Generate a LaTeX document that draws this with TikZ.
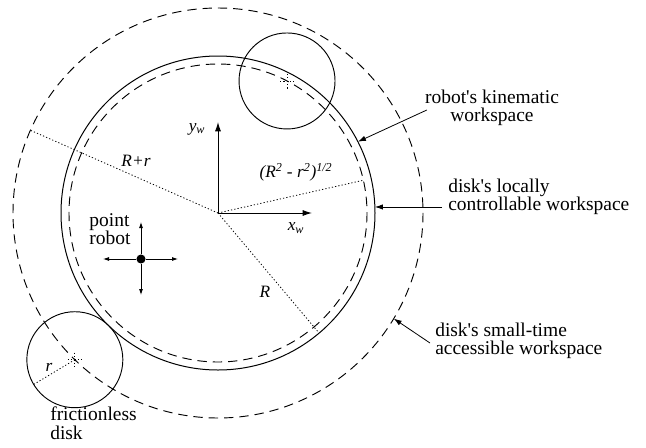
\documentclass[tikz,border=0pt]{standalone}
\usepackage{fontspec}
\setmainfont{Liberation Serif}
\usepackage{tikz}
\usetikzlibrary{arrows.meta, positioning, calc}
\definecolor{inkline}{RGB}{0, 0, 0}
\tikzset{
  px/.style={x=0.75pt, y=-0.75pt},
  textlabel/.style={inner sep=0pt, font=\rmfamily\fontsize{14.6}{13.6}\selectfont},
  mathlabel/.style={inner sep=0pt, font=\rmfamily\fontsize{13}{14}\selectfont\itshape},
  boundary/.style={draw=inkline, line width=0.75pt},
  diskline/.style={draw=inkline, line width=0.7pt},
  dashedring/.style={draw=inkline, line width=0.7pt, dash pattern=on 7pt off 4.5pt},
  radiusline/.style={draw=inkline, line width=0.6pt, dash pattern=on 0.9pt off 1.6pt},
  pointer/.style={
    draw=inkline, line width=0.6pt, -{Latex[length=6pt, width=4pt]}
  },
  axisline/.style={
    draw=inkline, line width=0.7pt, -{Latex[length=7pt, width=4.5pt]}
  },
  motionline/.style={
    draw=inkline, line width=0.6pt, -{Latex[length=4.5pt, width=3pt]}
  }
}
\newcommand{\apos}{\textquotesingle}

\begin{document}
\begin{tikzpicture}[px]
  \useasboundingbox (0,0) rectangle (646,447);

  % Workspace centre and radii
  \coordinate (ctr) at (218,213);
  \def\wsR{157}
  \def\wsRin{149}
  \def\wsRout{205}
  \def\wsr{48}

  % Workspace rings
  \draw[dashedring] (ctr) circle[radius=\wsRout];
  \draw[boundary] (ctr) circle[radius=\wsR];
  \draw[dashedring] (ctr) circle[radius=\wsRin];

  % Disk touching the boundary
  \coordinate (disk_top) at ($(ctr)+(-62.4:\wsRin)$);
  \draw[diskline] (disk_top) circle[radius=\wsr];
  \draw[radiusline] ($(disk_top)+(-7,0)$) -- ($(disk_top)+(7,0)$);
  \draw[radiusline] ($(disk_top)+(0,-7)$) -- ($(disk_top)+(0,9)$);

  % Frictionless disk
  \coordinate (disk_low) at ($(ctr)+(134.3:\wsRout)$);
  \draw[diskline] (disk_low) circle[radius=\wsr];
  \draw[radiusline] ($(disk_low)+(-7,0)$) -- ($(disk_low)+(7,0)$);
  \draw[radiusline] ($(disk_low)+(0,-7)$) -- ($(disk_low)+(0,7)$);
  \coordinate (rim_r) at ($(disk_low)+(149:\wsr)$);
  \draw[radiusline] (disk_low) -- (rim_r);

  % Radii from the centre
  \coordinate (rim_out) at ($(ctr)+(-156.2:\wsRout)$);
  \coordinate (rim_R) at ($(ctr)+(49.9:\wsR)$);
  \coordinate (rim_in) at ($(ctr)+(-12.7:\wsRin)$);
  \draw[radiusline] (ctr) -- (rim_out);
  \draw[radiusline] (ctr) -- (rim_R);
  \draw[radiusline] (ctr) -- (rim_in);

  % World frame
  \coordinate (x_tip) at (312,213);
  \coordinate (y_tip) at (218,122);
  \draw[axisline] (ctr) -- (x_tip);
  \draw[axisline] (ctr) -- (y_tip);

  % Radius and axis labels
  \node[mathlabel] (lbl_Rr) at (136,161) {R+r};
  \node[mathlabel] (lbl_root) at (296,172) {(R\textsuperscript{2} - r\textsuperscript{2})\textsuperscript{1/2}};
  \node[mathlabel] (lbl_R) at (265,292) {R};
  \node[mathlabel] (lbl_r) at (49,367) {r};
  \node[mathlabel] (lbl_x) at (296,228) {x\textsubscript{w}};
  \node[mathlabel] (lbl_y) at (197,129) {y\textsubscript{w}};

  % Point robot
  \node[circle, fill=inkline, inner sep=0pt, minimum size=6.8pt] (robot_dot) at (141,259) {};
  \coordinate (arm_l) at (103,259);
  \coordinate (arm_r) at (178,259);
  \coordinate (arm_u) at (141,222);
  \coordinate (arm_d) at (141,295);
  \draw[motionline] (robot_dot) -- (arm_l);
  \draw[motionline] (robot_dot) -- (arm_r);
  \draw[motionline] (robot_dot) -- (arm_u);
  \draw[motionline] (robot_dot) -- (arm_d);
  \node[textlabel, align=left] (lbl_point) at (110,229) {point\\robot};

  % Workspace annotations
  \node[textlabel, align=center] (lbl_kin) at (492,108) {robot\apos s kinematic\\workspace};
  \node[textlabel, align=left, anchor=west] (lbl_loc) at (448,197) {disk\apos s locally\\controllable workspace};
  \node[textlabel, align=left, anchor=west] (lbl_st) at (435,341) {disk\apos s small-time\\accessible workspace};
  \node[textlabel, align=left, anchor=north west] (lbl_fric) at (50,407) {frictionless\\disk};

  \coordinate (p_kin) at ($(ctr)+(-27:\wsR)$);
  \coordinate (p_loc) at ($(ctr)+(-2.2:\wsR)$);
  \coordinate (p_st) at ($(ctr)+(31:\wsRout)$);
  \draw[pointer] ($(lbl_kin.west)+(2,2)$) -- (p_kin);
  \draw[pointer] ($(lbl_loc.west |- p_loc)+(-6,0)$) -- (p_loc);
  \draw[pointer] ($(lbl_st.west)+(-5,2)$) -- (p_st);

\end{tikzpicture}
\end{document}
